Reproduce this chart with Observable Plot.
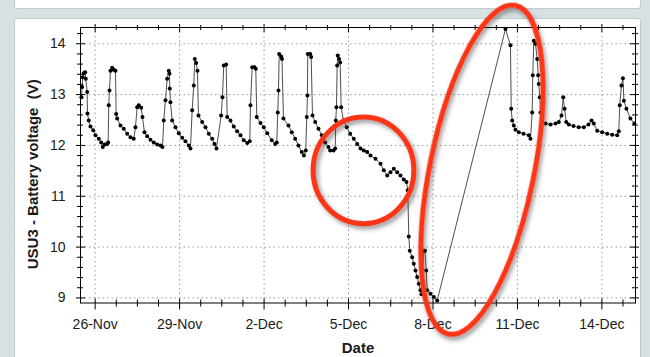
<!DOCTYPE html>
<html>
<head>
<meta charset="utf-8">
<script src="https://cdn.jsdelivr.net/npm/d3@7"></script>
<script src="https://cdn.jsdelivr.net/npm/@observablehq/plot@0.6"></script>
<style>
  html, body { margin: 0; padding: 0; }
  body { width: 650px; height: 357px; overflow: hidden; position: relative; background: #d7e0e3; font-family: "Liberation Sans", Arial, sans-serif; }
  .panel { position: absolute; background: #fff; border: 1px solid #c2cbcf; border-radius: 3px; box-sizing: border-box; }
  #chart { position: absolute; left: 0; top: 0; }
</style>
</head>
<body>
<div class="panel" style="left:14px;top:-6px;width:627px;height:15px;"></div>
<div class="panel" style="left:14px;top:18px;width:627px;height:360px;"></div>
<div id="chart"></div>
<script>
// ---- data ----
const readings = [
["11-25 12:20",12.95],["11-25 12:55",13.15],["11-25 13:26",13.34],["11-25 14:17",13.42],["11-25 15:28",13.44],
["11-25 16:00",13.31],["11-25 17:11",13.05],["11-25 17:26",12.63],["11-25 18:33",12.49],["11-25 20:00",12.37],
["11-25 22:18",12.30],["11-26 00:15",12.20],["11-26 03:04",12.13],["11-26 05:07",12.06],["11-26 06:29",11.97],
["11-26 08:11",12.02],["11-26 10:14",12.03],["11-26 11:05",12.06],["11-26 11:36",12.79],["11-26 12:11",13.08],
["11-26 13:03",13.47],["11-26 14:29",13.53],["11-26 15:52",13.49],["11-26 17:18",13.47],["11-26 17:54",12.62],
["11-26 18:45",12.53],["11-26 21:34",12.39],["11-27 00:23",12.33],["11-27 03:17",12.23],["11-27 06:06",12.16],
["11-27 08:54",12.13],["11-27 10:22",12.36],["11-27 11:49",12.75],["11-27 13:10",12.79],["11-27 15:13",12.74],
["11-27 16:20",12.56],["11-27 18:02",12.26],["11-27 20:20",12.18],["11-27 23:09",12.11],["11-28 01:58",12.06],
["11-28 04:52",12.02],["11-28 07:40",12.00],["11-28 09:23",11.97],["11-28 10:29",12.49],["11-28 11:56",12.89],
["11-28 13:23",13.31],["11-28 14:45",13.47],["11-28 15:21",13.41],["11-28 15:36",13.12],["11-28 16:12",12.85],
["11-28 17:39",12.49],["11-28 20:28",12.36],["11-28 23:17",12.24],["11-29 02:11",12.15],["11-29 04:59",12.08],
["11-29 07:48",12.00],["11-29 09:15",11.94],["11-29 10:42",12.69],["11-29 12:04",13.18],["11-29 12:55",13.70],
["11-29 14:07",13.62],["11-29 15:13",13.47],["11-29 16:04",12.59],["11-29 19:14",12.46],["11-29 22:03",12.36],
["11-30 00:51",12.23],["11-30 03:45",12.13],["11-30 05:42",12.03],["11-30 07:25",11.94],["11-30 11:25",12.59],
["11-30 12:32",12.95],["11-30 13:38",13.57],["11-30 15:41",13.59],["11-30 16:32",12.56],["11-30 19:21",12.49],
["11-30 22:10",12.37],["12-01 01:04",12.28],["12-01 03:53",12.20],["12-01 06:42",12.10],["12-01 09:36",12.05],
["12-01 11:49",12.08],["12-01 12:25",12.79],["12-01 13:52",13.54],["12-01 15:49",13.54],["12-01 16:56",13.51],
["12-01 17:47",12.56],["12-01 20:56",12.44],["12-01 23:45",12.36],["12-02 02:39",12.24],["12-02 06:35",12.10],
["12-02 09:28",12.03],["12-02 10:50",12.06],["12-02 11:41",12.65],["12-02 12:17",13.08],["12-02 12:53",13.80],
["12-02 14:35",13.75],["12-02 15:16",13.70],["12-02 16:32",12.53],["12-02 20:48",12.39],["12-02 23:37",12.26],
["12-03 02:31",12.13],["12-03 05:20",12.00],["12-03 08:09",11.87],["12-03 10:00",11.80],["12-03 11:33",11.90],
["12-03 12:25",12.56],["12-03 13:00",12.98],["12-03 13:16",13.80],["12-03 15:19",13.80],["12-03 16:10",13.74],
["12-03 17:17",12.59],["12-03 19:35",12.46],["12-03 22:24",12.33],["12-04 01:13",12.20],["12-04 04:06",12.06],
["12-04 06:54",11.97],["12-04 08:21",11.90],["12-04 11:12",11.90],["12-04 12:37",11.94],["12-04 13:08",12.49],
["12-04 13:43",12.75],["12-04 14:19",13.57],["12-04 14:50",13.77],["12-04 16:01",13.70],["12-04 16:52",13.63],
["12-04 17:44",12.75],["12-04 19:41",12.49],["12-04 22:30",12.36],["12-05 01:24",12.23],["12-05 04:29",12.13],
["12-05 07:23",12.03],["12-05 10:12",11.94],["12-05 13:01",11.90],["12-05 15:55",11.87],["12-05 18:43",11.80],
["12-05 22:59",11.74],["12-06 03:15",11.64],["12-06 06:04",11.51],["12-06 08:58",11.41],["12-06 11:47",11.47],
["12-06 14:36",11.54],["12-06 17:29",11.47],["12-06 20:18",11.41],["12-06 23:07",11.33],["12-07 01:25",11.28],
["12-07 02:31",11.12],["12-07 03:22",10.21],["12-07 04:13",9.93],["12-07 06:16",9.80],["12-07 07:38",9.67],
["12-07 09:05",9.54],["12-07 10:32",9.41],["12-07 11:54",9.28],["12-07 13:21",9.15],["12-07 14:12",9.07],
["12-07 16:11",9.93],["12-07 17:12",9.93],["12-07 18:13",9.54],["12-07 19:04",9.15],["12-07 21:53",9.08],
["12-08 00:42",9.02],["12-08 03:36",8.95],
["12-10 13:49",14.29],["12-10 18:05",13.97],["12-10 18:42",12.72],["12-10 19:32",12.49],["12-10 20:54",12.39],
["12-10 22:21",12.31],["12-11 01:10",12.26],["12-11 05:10",12.23],["12-11 09:42",12.20],["12-11 11:08",12.13],
["12-11 12:35",12.65],["12-11 13:06",13.38],["12-11 13:57",14.06],["12-11 15:24",14.00],["12-11 16:51",13.70],
["12-11 17:42",13.38],["12-11 18:12",13.21],["12-11 19:03",12.95],["12-11 19:39",12.65],["12-11 21:06",12.46],
["12-12 00:00",12.43],["12-12 04:15",12.41],["12-12 08:30",12.43],["12-12 11:19",12.46],["12-12 13:36",12.59],
["12-12 15:03",12.95],["12-12 16:10",12.72],["12-12 17:37",12.46],["12-12 19:50",12.41],["12-12 23:50",12.38],
["12-13 04:19",12.36],["12-13 08:35",12.36],["12-13 12:35",12.41],["12-13 15:12",12.49],["12-13 17:07",12.43],
["12-13 20:00",12.29],["12-14 00:16",12.26],["12-14 04:32",12.23],["12-14 08:47",12.21],["12-14 13:03",12.20],
["12-14 14:25",12.28],["12-14 15:15",12.79],["12-14 16:42",13.18],["12-14 17:56",13.32],["12-14 18:47",12.88],
["12-14 20:55",12.72],["12-15 00:20",12.53],["12-15 03:44",12.43]
];
const xDomain = ["11-25 11:30", "12-15 04:40"];
const yDomain = [8.90, 14.32];
const yMajor = [9, 10, 11, 12, 13, 14];
const xMajor = ["11-26 00:00", "11-29 00:00", "12-02 00:00", "12-05 00:00", "12-08 00:00", "12-11 00:00", "12-14 00:00"];
const xMinorStepHours = 18;
const yMinorStep = 0.2;
const annotations = [
  {center: "12-05 13:10", volt: 11.50, rxDays: 1.79, ryVolts: 1.05, angle: 0},
  {center: "12-09 18:12", volt: 11.51, rxDays: 1.85, ryVolts: 3.30, angle: 11.5}
];
const yLabel = "USU3 - Battery voltage  (V)";
const xLabel = "Date";

// ---- build ----
const parse = d3.utcParse("%Y-%m-%d %H:%M");
const T = s => parse("2013-" + s);
const data = readings.map(([t, v]) => ({date: T(t), volt: v}));
const xDom = xDomain.map(T);
const xMaj = xMajor.map(T);
const xMin = [];
for (let t = +xMaj[0]; t <= +xDom[1]; t += xMinorStepHours * 3600e3) {
  if (!xMaj.some(m => +m === t)) xMin.push(new Date(t));
}
const yMin = d3.range(9, yDomain[1], yMinorStep).map(v => Math.round(v * 10) / 10).filter(v => !yMajor.includes(v));

const W = 650, H = 357, mL = 80, mR = 15, mT = 27, mB = 54.5;
const fw = W - mL - mR, fh = H - mT - mB;

function ellipses(index, scales) {
  const ns = "http://www.w3.org/2000/svg";
  const g = document.createElementNS(ns, "g");
  const defs = document.createElementNS(ns, "defs");
  defs.innerHTML = '<filter id="shadow" x="-20%" y="-20%" width="140%" height="140%"><feDropShadow dx="2.5" dy="3" stdDeviation="2" flood-color="#444" flood-opacity="0.55"/></filter>';
  g.appendChild(defs);
  for (const a of annotations) {
    const c = T(a.center);
    const cx = scales.x(c), cy = scales.y(a.volt);
    const rx = scales.x(new Date(+c + a.rxDays * 864e5)) - cx;
    const ry = cy - scales.y(a.volt + a.ryVolts);
    const e = document.createElementNS(ns, "ellipse");
    e.setAttribute("cx", cx); e.setAttribute("cy", cy);
    e.setAttribute("rx", rx); e.setAttribute("ry", ry);
    e.setAttribute("transform", `rotate(${a.angle},${cx},${cy})`);
    e.setAttribute("fill", "none");
    e.setAttribute("stroke", "#fb3413");
    e.setAttribute("stroke-width", 5);
    e.setAttribute("filter", "url(#shadow)");
    g.appendChild(e);
  }
  return g;
}

const chart = Plot.plot({
  width: W, height: H,
  marginLeft: mL, marginRight: mR, marginTop: mT, marginBottom: mB,
  style: {background: "transparent", fontFamily: "Liberation Sans, Arial, sans-serif", fontSize: "14px", color: "#1a1a1a"},
  x: {type: "utc", domain: xDom},
  y: {domain: yDomain},
  marks: [
    Plot.gridY(yMajor, {stroke: "#9a9a9a", strokeOpacity: 1, strokeDasharray: "1.5,3"}),
    Plot.gridX(xMaj, {stroke: "#9a9a9a", strokeOpacity: 1, strokeDasharray: "1.5,3"}),
    Plot.line(data, {x: "date", y: "volt", stroke: "#3a3a3a", strokeWidth: 0.9}),
    Plot.dot(data, {x: "date", y: "volt", r: 2, fill: "#000", stroke: "none"}),
    Plot.frame({stroke: "#000"}),
    // left / right ticks
    Plot.tickY(yMajor, {insetLeft: -4, insetRight: fw - 5, stroke: "#000"}),
    Plot.tickY(yMin, {insetLeft: -3, insetRight: fw - 3, stroke: "#000"}),
    Plot.tickY(yMajor, {insetLeft: fw - 5, insetRight: -4, stroke: "#000"}),
    Plot.tickY(yMin, {insetLeft: fw - 3, insetRight: -3, stroke: "#000"}),
    // bottom / top ticks
    Plot.tickX(xMaj, {insetTop: fh - 4, insetBottom: -7, stroke: "#000"}),
    Plot.tickX(xMin, {insetTop: fh - 3, insetBottom: -4, stroke: "#000"}),
    Plot.tickX(xMaj, {insetTop: -3, insetBottom: fh - 5, stroke: "#000"}),
    Plot.tickX(xMin, {insetTop: -2, insetBottom: fh - 3, stroke: "#000"}),
    Plot.axisY(yMajor, {tickSize: 0, tickPadding: 15, label: null, fontSize: 14, fill: "#1a1a1a", tickFormat: d3.format("d")}),
    Plot.axisX(xMaj, {tickSize: 0, tickPadding: 16, label: null, fontSize: 14, fill: "#1a1a1a", tickFormat: d3.utcFormat("%-d-%b")}),
    Plot.text([yLabel], {frameAnchor: "left", textAnchor: "middle", lineAnchor: "middle", dx: -47.5, dy: 9, rotate: -90, fontWeight: "bold", fontSize: 15, fill: "#1a1a1a", text: d => d}),
    Plot.text([xLabel], {frameAnchor: "bottom", dy: 50, fontWeight: "bold", fontSize: 15, fill: "#1a1a1a", text: d => d}),
    ellipses
  ]
});
document.getElementById("chart").appendChild(chart);
</script>
</body>
</html>
